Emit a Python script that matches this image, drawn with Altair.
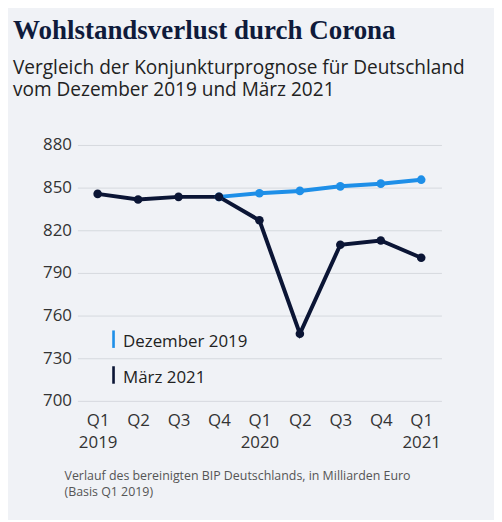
import altair as alt
import pandas as pd

quarters = ["Q1 2019", "Q2 2019", "Q3 2019", "Q4 2019", "Q1 2020",
            "Q2 2020", "Q3 2020", "Q4 2020", "Q1 2021"]
dez2019 = [None, None, None, 843.5, 846.0, 847.7, 850.9, 852.8, 855.6]
maerz2021 = [845.6, 841.6, 843.5, 843.5, 827.0, 747.2, 809.8, 812.8, 800.7]
series_names = ["Dezember 2019", "März 2021"]
series_colors = ["#1e8fe8", "#0b1535"]
y_ticks = [700, 730, 760, 790, 820, 850, 880]

title_text = "Wohlstandsverlust durch Corona"
subtitle_lines = ["Vergleich der Konjunkturprognose für Deutschland",
                  "vom Dezember 2019 und März 2021"]
footer_lines = ["Verlauf des bereinigten BIP Deutschlands, in Milliarden Euro",
                "(Basis Q1 2019)"]

rows = []
for name, vals in zip(series_names, [dez2019, maerz2021]):
    for q, v in zip(quarters, vals):
        if v is not None:
            rows.append({"quarter": q, "value": v, "series": name})
df = pd.DataFrame(rows)
legend_df = pd.DataFrame({"series": series_names})

FONT = "Open Sans"
color_scale = alt.Scale(domain=series_names, range=series_colors)

lines = alt.Chart(df).mark_line(
    strokeWidth=4,
    point=alt.OverlayMarkDef(filled=True, size=75),
).encode(
    x=alt.X("quarter:N", sort=quarters,
            scale=alt.Scale(type="point", padding=0.5),
            axis=alt.Axis(title=None, labelAngle=0, grid=False, domain=False, ticks=False,
                          labelFont=FONT, labelFontSize=17, labelColor="#333",
                          labelPadding=11.5, labelLineHeight=23, labelBaseline="top",
                          labelExpr="split(datum.label, ' ')[0] == 'Q1' ? split(datum.label, ' ') : [split(datum.label, ' ')[0]]")),
    y=alt.Y("value:Q",
            scale=alt.Scale(domain=[700, 880], nice=False, zero=False),
            axis=alt.Axis(title=None, values=y_ticks, grid=True, domain=False, ticks=False,
                          gridColor="#d6d9de", gridWidth=1,
                          labelFont=FONT, labelFontSize=17, labelColor="#333",
                          labelPadding=6)),
    color=alt.Color("series:N", scale=color_scale, legend=None),
    order=alt.Order("series:N"),
)

legend_y = alt.Y("series:N",
                 scale=alt.Scale(type="point", padding=0, domain=series_names,
                                 range=[195.8, 231.9]),
                 axis=None)

legend_marks = alt.Chart(legend_df).mark_point(
    shape="M-0.15,-1L0.15,-1L0.15,1L-0.15,1Z", filled=True, size=310, opacity=1,
).encode(
    x=alt.value(36.4),
    y=legend_y,
    color=alt.Color("series:N", scale=color_scale, legend=None),
)

legend_text = alt.Chart(legend_df).mark_text(
    font=FONT, fontSize=17, color="#222", align="left", baseline="middle", dy=3,
).encode(
    x=alt.value(46),
    y=legend_y,
    text="series:N",
)

legend = alt.layer(legend_marks, legend_text)

one = alt.Data(values=[{"k": 1}])

title = alt.Chart(one).mark_text(
    text=title_text, font="Liberation Serif", fontWeight="bold", fontSize=27.2,
    color="#0f1b3b", align="left", baseline="alphabetic",
).encode(x=alt.value(-65), y=alt.value(-107.3))

subtitle = alt.Chart(one).mark_text(
    text=subtitle_lines, font=FONT, fontSize=19.2, lineHeight=21.6,
    color="#222", align="left", baseline="alphabetic",
).encode(x=alt.value(-65), y=alt.value(-71.3))

footer = alt.Chart(one).mark_text(
    text=footer_lines, font=FONT, fontSize=12.5, lineHeight=16,
    color="#555", align="left", baseline="alphabetic",
).encode(x=alt.value(-13), y=alt.value(338))

chart = alt.layer(lines, legend, title, subtitle, footer).resolve_scale(
    y="independent"
).properties(
    width=367, height=258,
    autosize=alt.AutoSizeParams(type="none"),
    padding={"left": 70, "top": 136, "right": 53, "bottom": 118},
    background="#f0f2f6",
).configure_view(stroke=None)

chart.save("out.html", embed_options={"renderer": "svg", "actions": False})
